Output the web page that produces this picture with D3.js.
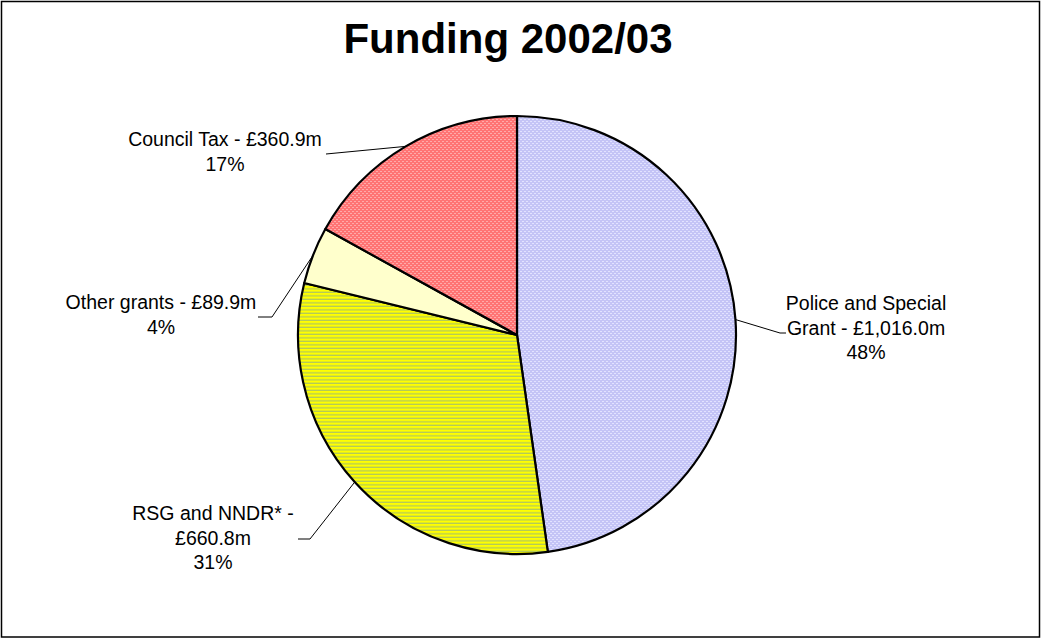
<!DOCTYPE html>
<html>
<head>
<meta charset="utf-8">
<script src="https://cdn.jsdelivr.net/npm/d3@7/dist/d3.min.js"></script>
<style>
  html, body { margin: 0; padding: 0; background: #fff; }
  svg { display: block; }
  text { font-family: "Liberation Sans", Arial, sans-serif; fill: #000; }
</style>
</head>
<body>
<svg id="chart" width="1042" height="640"></svg>
<script>
// Funding sources, 2002/03 (£m)
const categories = ["Police and Special Grant", "RSG and NNDR*", "Other grants", "Council Tax"];
const values = [1016.0, 660.8, 89.9, 360.9];
// How each category name wraps in its label
const nameLines = [
  ["Police and Special", "Grant - "],
  ["RSG and NNDR* -", ""],
  ["Other grants - "],
  ["Council Tax - "]
];
const title = "Funding 2002/03";

const W = 1042, H = 640;
const cx = 517, cy = 335, R = 219;

const svg = d3.select("#chart");
const defs = svg.append("defs");

// Fill patterns for the slices
function checker(id, base, dot) {
  const p = defs.append("pattern").attr("id", id)
    .attr("patternUnits", "userSpaceOnUse").attr("width", 4).attr("height", 4);
  p.append("rect").attr("width", 4).attr("height", 4).attr("fill", base);
  [[0, 0], [2, 2], [1, 2], [3, 0]].forEach(([x, y]) =>
    p.append("rect").attr("x", x).attr("y", y).attr("width", 1).attr("height", 1).attr("fill", dot));
  return `url(#${id})`;
}
const stripes = defs.append("pattern").attr("id", "stripes")
  .attr("patternUnits", "userSpaceOnUse").attr("width", 4).attr("height", 3.5);
stripes.append("rect").attr("width", 4).attr("height", 3.5).attr("fill", "#ffff00");
stripes.append("rect").attr("y", 2.2).attr("width", 4).attr("height", 1.3).attr("fill", "#b2c85c");

const fills = [
  checker("lav", "#c4c4f6", "#e2e2ff"),
  "url(#stripes)",
  "#ffffcc",
  checker("red", "#ff7474", "#ffaaaa")
];

// Outer frame
svg.append("rect").attr("x", 1.5).attr("y", 1.5).attr("width", W - 4).attr("height", H - 4.5)
  .attr("fill", "none").attr("stroke", "#000").attr("stroke-width", 1.5);

// Title
svg.append("text").attr("x", 508).attr("y", 53).attr("text-anchor", "middle")
  .attr("font-size", 42).attr("font-weight", "bold").text(title);

const total = d3.sum(values);
const pie = d3.pie().sort(null).value(d => d)(values);
const arc = d3.arc().innerRadius(0).outerRadius(R);

const g = svg.append("g").attr("transform", `translate(${cx},${cy})`);
g.selectAll("path.slice").data(pie).join("path")
  .attr("class", "slice")
  .attr("d", arc)
  .attr("fill", (d, i) => fills[i])
  .attr("stroke", "#000").attr("stroke-width", 2.2).attr("stroke-linejoin", "round");

// Label placement (centre x, first baseline) and leader elbow per slice
const labelPos = [
  { x: 866, y: 310, elbow: [[780, 333], [786, 333]] },
  { x: 213, y: 520, elbow: [[310, 539], [298, 539]] },
  { x: 161, y: 309, elbow: [[272, 317], [258, 317]] },
  { x: 225, y: 146, elbow: [[326, 154], [326, 154]] }
];

const money = v => "£" + d3.format(",.1f")(v) + "m";
const pct = d3.format(".0%");

pie.forEach((d, i) => {
  const mid = (d.startAngle + d.endAngle) / 2;
  const ex = cx + R * Math.sin(mid), ey = cy - R * Math.cos(mid);
  const lp = labelPos[i];
  const pts = [[ex, ey], lp.elbow[0], lp.elbow[1]];
  svg.append("path")
    .attr("d", d3.line()(pts))
    .attr("fill", "none").attr("stroke", "#000").attr("stroke-width", 1);

  const lines = nameLines[i].slice();
  lines[lines.length - 1] += money(values[i]);
  lines.push(pct(values[i] / total));
  const t = svg.append("text").attr("text-anchor", "middle").attr("font-size", 19.5);
  lines.forEach((s, k) => {
    t.append("tspan").attr("x", lp.x).attr("y", lp.y + k * 24.5).text(s);
  });
});
</script>
</body>
</html>
